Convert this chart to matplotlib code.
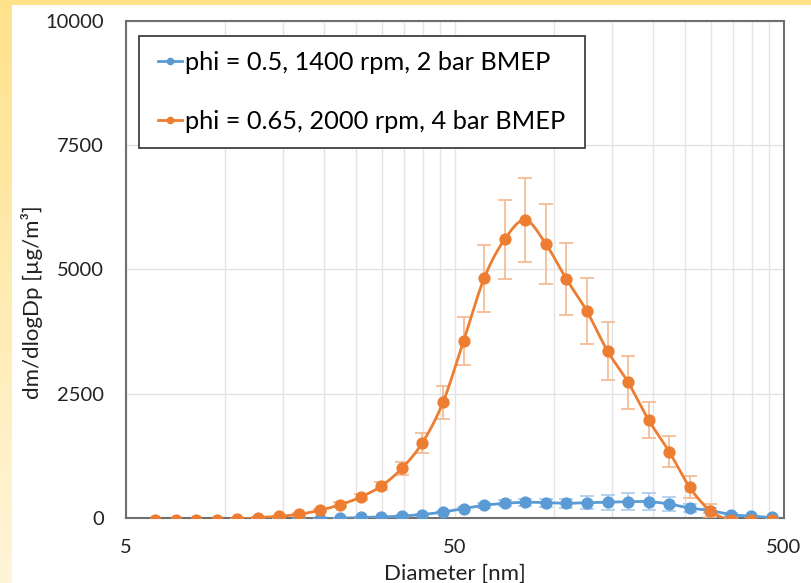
'''################################################################
#
# @file: plot.py
#
# @Description:
#   Distribucion de masa de particulas (dm/dlogDp) frente al diametro
#   para dos puntos de funcionamiento del motor, con barras de error
#   y linea suavizada como en Excel.
#
################################################################'''
import numpy as np
import matplotlib.pyplot as plt
from matplotlib.patches import Rectangle
from matplotlib.ticker import FixedLocator, FixedFormatter, NullFormatter

# Datos
diametro = [6.13, 7.08, 8.17, 9.44, 10.90, 12.59, 14.54, 16.79, 19.38,
            22.39, 25.85, 29.85, 34.47, 39.81, 45.97, 53.08, 61.30, 70.79,
            81.75, 94.40, 109.0, 125.9, 145.4, 167.9, 193.9, 223.9, 258.5,
            298.5, 344.7, 398.1, 459.7]

etiqueta_azul = "phi = 0.5, 1400 rpm, 2 bar BMEP"
inicio_azul = 5
masa_azul = [-40, -30, -25, -20, -5, 10, 20, 40, 70, 120, 190, 255, 296,
             316, 310, 296, 308, 316, 328, 328, 282, 200, 150, 70, 35, 10]
err_azul = [5, 5, 5, 5, 5, 8, 10, 12, 15, 25, 35, 45, 60, 70, 80, 90, 130,
            150, 170, 170, 140, 80, 50, 25, 15, 10]

etiqueta_naranja = "phi = 0.65, 2000 rpm, 4 bar BMEP"
masa_naranja = [-40, -40, -40, -35, -20, 6, 34, 74, 155, 267, 422, 643, 999,
                1514, 2327, 3559, 4820, 5604, 5992, 5510, 4806, 4156, 3358,
                2729, 1970, 1333, 617, 147, -40, -40, -40]
err_naranja = [0, 0, 0, 0, 0, 10, 15, 20, 30, 45, 60, 90, 135, 200, 335, 485,
               675, 790, 850, 800, 720, 665, 590, 535, 370, 310, 220, 135, 40,
               0, 0]

ticks_x = [5, 50, 500]
ticks_x_menor = [10, 15, 20, 25, 30, 35, 40, 45,
                 100, 150, 200, 250, 300, 350, 400, 450]
ticks_y = [0, 2500, 5000, 7500, 10000]

AZUL = "#5B9BD5"
AZUL_ERR = "#A9CBEA"
NARANJA = "#ED7D31"
NARANJA_ERR = "#F5B88E"
TEXTO = "#222222"
FUENTE = ["Lato", "DejaVu Sans"]


#####################################
#
# Nombre: curvaSuave
#
# Descripcion: linea suavizada tipo Excel (Bezier con puntos de
# control a 1/6 de la tangente), calculada en espacio log10(x).
#
# Retorno: arrays x, y de la curva.
#
#####################################
def curvaSuave(x, y, n=24):
    p = np.column_stack([np.log10(x), np.asarray(y, dtype=float)])
    t = np.linspace(0, 1, n)[:, None]
    trozos = []
    for i in range(len(p) - 1):
        p0, p3 = p[i], p[i + 1]
        ant = p[i - 1] if i > 0 else p[i]
        sig = p[i + 2] if i + 2 < len(p) else p[i + 1]
        c1 = p0 + (p3 - ant) / 6.0
        c2 = p3 - (sig - p0) / 6.0
        b = ((1 - t) ** 3) * p0 + 3 * ((1 - t) ** 2) * t * c1 \
            + 3 * (1 - t) * t ** 2 * c2 + t ** 3 * p3
        trozos.append(b)
    b = np.vstack(trozos)
    return 10 ** b[:, 0], b[:, 1]


#####################################
#
# Nombre: pintarSerie
#
# Descripcion: barras de error, linea suave y marcadores de una serie.
#
# Retorno: el Line2D para la leyenda.
#
#####################################
def pintarSerie(ax, x, y, err, color, color_err, etiqueta, z):
    ax.errorbar(x, y, yerr=err, fmt="none", ecolor=color_err,
                elinewidth=1.2, capsize=5, capthick=1.2, zorder=z)
    xs, ys = curvaSuave(x, y)
    ax.plot(xs, ys, color=color, lw=2.0, zorder=z + 0.1,
            solid_capstyle="round")
    ax.plot(x, y, "o", color=color, ms=7.8, mec=color, zorder=z + 0.2)
    h, = ax.plot([], [], "-o", color=color, lw=2.0, ms=4.5, label=etiqueta)
    return h


def main():
    fig = plt.figure(figsize=(8.12, 5.83), dpi=100)
    ancho, alto = 812, 583

    # Fondo: borde amarillo arriba y degradado a la izquierda
    fondo = np.ones((alto, ancho, 3))
    arriba = np.array([1.0, 0.886, 0.545])
    abajo = np.array([1.0, 0.96, 0.85])
    grad = np.linspace(0, 1, alto)[:, None] * (abajo - arriba) + arriba
    fondo[:, :12, :] = grad[:, None, :]
    fondo[:5, :, :] = arriba
    ax_fondo = fig.add_axes([0, 0, 1, 1], zorder=-5)
    ax_fondo.imshow(fondo, aspect="auto", interpolation="bilinear")
    ax_fondo.axis("off")

    ax = fig.add_axes([0.1552, 0.1115, 0.8103, 0.853])
    ax.set_facecolor("white")
    ax.set_xscale("log")
    ax.set_xlim(5, 500)
    ax.set_ylim(0, 10000)

    x_azul = diametro[inicio_azul:]
    h1 = pintarSerie(ax, x_azul, masa_azul, err_azul, AZUL, AZUL_ERR,
                     etiqueta_azul, 3)
    h2 = pintarSerie(ax, diametro, masa_naranja, err_naranja, NARANJA,
                     NARANJA_ERR, etiqueta_naranja, 4)

    # Ejes y rejilla
    ax.xaxis.set_major_locator(FixedLocator(ticks_x))
    ax.xaxis.set_major_formatter(FixedFormatter([str(t) for t in ticks_x]))
    ax.xaxis.set_minor_locator(FixedLocator(ticks_x_menor))
    ax.xaxis.set_minor_formatter(NullFormatter())
    ax.set_yticks(ticks_y)
    ax.grid(True, which="both", axis="x", color="#e3e3e3", lw=1.0, zorder=0)
    ax.grid(True, which="major", axis="y", color="#e3e3e3", lw=1.0, zorder=0)
    ax.set_axisbelow(True)
    ax.tick_params(which="both", length=0)
    ax.tick_params(axis="y", pad=16, labelsize=14.5, labelcolor=TEXTO)
    ax.tick_params(axis="x", pad=15, labelsize=14.5, labelcolor=TEXTO)
    for lab in ax.get_xticklabels() + ax.get_yticklabels():
        lab.set_family(FUENTE)
    for s in ax.spines.values():
        s.set_color("#6f6f6f")
        s.set_linewidth(1.5)

    ax.set_xlabel("Diameter [nm]", fontsize=16, family=FUENTE, color=TEXTO)
    ax.xaxis.set_label_coords(0.5, -0.091)
    ax.set_ylabel("dm/dlogDp [µg/m³]", fontsize=16, family=FUENTE,
                  color=TEXTO)
    ax.yaxis.set_label_coords(-0.126, 0.434)

    # Leyenda sin marco; el marco se dibuja aparte
    leg = fig.legend(handles=[h1, h2], loc="upper left",
                     bbox_to_anchor=(158 / ancho, 1 - 51 / alto),
                     bbox_transform=fig.transFigure,
                     prop={"family": FUENTE, "size": 18.3},
                     frameon=False, handlelength=0.95, handletextpad=0.12,
                     labelspacing=1.42, borderpad=0, borderaxespad=0)
    leg.set_zorder(10)
    marco = Rectangle((139 / ancho, 1 - 148 / alto), 446 / ancho,
                      112 / alto, transform=fig.transFigure,
                      facecolor="white", edgecolor="#404040", lw=1.3,
                      zorder=9)
    fig.add_artist(marco)

    fig.savefig("out.png", dpi=100)


if __name__ == '__main__':
    main()
